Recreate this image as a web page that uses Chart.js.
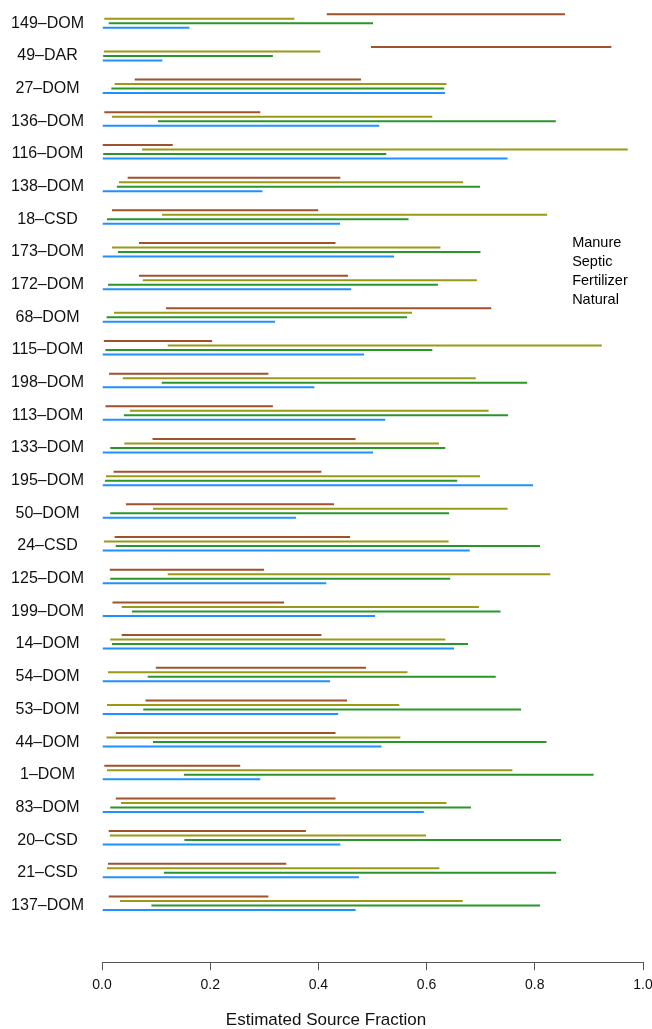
<!DOCTYPE html>
<html>
<head>
<meta charset="utf-8">
<script src="https://cdn.jsdelivr.net/npm/chart.js@4"></script>
<style>
  body { margin: 0; background: #fff; }
  #wrap { width: 652px; height: 1029px; position: relative; }
</style>
</head>
<body>
<div id="wrap"><canvas id="sourceChart"></canvas></div>
<script>
const ctx = document.getElementById('sourceChart').getContext('2d');

// sample names, top to bottom
const categories = [
  '149\u2013DOM', '49\u2013DAR', '27\u2013DOM', '136\u2013DOM', '116\u2013DOM', '138\u2013DOM', '18\u2013CSD',
  '173\u2013DOM', '172\u2013DOM', '68\u2013DOM', '115\u2013DOM', '198\u2013DOM', '113\u2013DOM', '133\u2013DOM',
  '195\u2013DOM', '50\u2013DOM', '24\u2013CSD', '125\u2013DOM', '199\u2013DOM', '14\u2013DOM', '54\u2013DOM',
  '53\u2013DOM', '44\u2013DOM', '1\u2013DOM', '83\u2013DOM', '20\u2013CSD', '21\u2013CSD', '137\u2013DOM'
];

// [low, high] of the estimated fraction for each source
const manure = [
  [0.415, 0.856], [0.497, 0.942], [0.060, 0.479], [0.004, 0.293], [0.000, 0.131], [0.047, 0.441], [0.018, 0.400],
  [0.068, 0.432], [0.068, 0.455], [0.118, 0.720], [0.003, 0.204], [0.013, 0.308], [0.006, 0.316], [0.093, 0.469],
  [0.021, 0.406], [0.044, 0.429], [0.023, 0.459], [0.014, 0.300], [0.019, 0.337], [0.036, 0.406], [0.099, 0.488],
  [0.080, 0.453], [0.025, 0.432], [0.004, 0.256], [0.025, 0.432], [0.012, 0.377], [0.011, 0.341], [0.012, 0.308]
];
const septic = [
  [0.004, 0.356], [0.003, 0.404], [0.023, 0.637], [0.018, 0.611], [0.074, 0.972], [0.031, 0.668], [0.111, 0.823],
  [0.018, 0.626], [0.075, 0.693], [0.022, 0.573], [0.121, 0.924], [0.038, 0.691], [0.051, 0.715], [0.041, 0.623],
  [0.007, 0.699], [0.094, 0.750], [0.003, 0.641], [0.121, 0.829], [0.036, 0.697], [0.015, 0.635], [0.011, 0.565],
  [0.009, 0.550], [0.008, 0.552], [0.009, 0.759], [0.035, 0.637], [0.014, 0.599], [0.009, 0.624], [0.033, 0.667]
];
const fertilizer = [
  [0.012, 0.501], [0.002, 0.316], [0.017, 0.633], [0.103, 0.839], [0.002, 0.526], [0.027, 0.699], [0.009, 0.567],
  [0.029, 0.700], [0.011, 0.621], [0.008, 0.564], [0.006, 0.611], [0.110, 0.786], [0.040, 0.751], [0.015, 0.635],
  [0.005, 0.657], [0.015, 0.642], [0.025, 0.810], [0.015, 0.644], [0.055, 0.737], [0.018, 0.677], [0.084, 0.728],
  [0.076, 0.775], [0.094, 0.822], [0.151, 0.909], [0.015, 0.682], [0.152, 0.849], [0.114, 0.840], [0.091, 0.810]
];
const natural = [
  [0, 0.162], [0, 0.112], [0, 0.634], [0, 0.513], [0, 0.750], [0, 0.297], [0, 0.440],
  [0, 0.540], [0, 0.461], [0, 0.320], [0, 0.485], [0, 0.393], [0, 0.524], [0, 0.501],
  [0, 0.797], [0, 0.359], [0, 0.680], [0, 0.415], [0, 0.505], [0, 0.651], [0, 0.422],
  [0, 0.437], [0, 0.517], [0, 0.293], [0, 0.595], [0, 0.441], [0, 0.475], [0, 0.469]
];

const xTicks = [0, 0.2, 0.4, 0.6, 0.8, 1.0];
const seriesNames = ['Manure', 'Septic', 'Fertilizer', 'Natural'];
const seriesColors = ['#a0522d', '#9a9a14', '#2a962a', '#1e90ff'];

const FONT = '"Liberation Sans", Arial, Helvetica, sans-serif';

function makeSet(name, color, ranges) {
  return {
    label: name,
    data: ranges.map((r, i) => ({ y: i, x: r })),
    backgroundColor: color,
    borderColor: 'rgba(0,0,0,0)',
    borderWidth: { top: 1.25, bottom: 1.25, left: 0, right: 0 },
    borderSkipped: false,
    inflateAmount: 0,
    barThickness: 4.5
  };
}

// text-only legend inside the plot, placed through the scales
const legendAt = { x: 0.869, y: 6.8 };
const textLegend = {
  id: 'textLegend',
  afterDraw(chart) {
    const c = chart.ctx;
    const xs = chart.scales.x, ys = chart.scales.y;
    c.save();
    c.font = '14.5px ' + FONT;
    c.fillStyle = '#000';
    c.textAlign = 'left';
    c.textBaseline = 'middle';
    chart.data.datasets.forEach((ds, i) => {
      c.fillText(ds.label, xs.getPixelForValue(legendAt.x), ys.getPixelForValue(legendAt.y) + i * 19);
    });
    c.restore();
  }
};

new Chart(ctx, {
  type: 'bar',
  data: {
    datasets: [
      makeSet(seriesNames[0], seriesColors[0], manure),
      makeSet(seriesNames[1], seriesColors[1], septic),
      makeSet(seriesNames[2], seriesColors[2], fertilizer),
      makeSet(seriesNames[3], seriesColors[3], natural)
    ]
  },
  options: {
    indexAxis: 'y',
    responsive: true,
    maintainAspectRatio: false,
    animation: false,
    layout: { padding: { top: 0, right: 0, bottom: 0, left: 0 } },
    plugins: {
      legend: { display: false },
      tooltip: { enabled: false },
      title: {
        display: true,
        position: 'bottom',
        text: 'Estimated Source Fraction',
        color: '#111',
        font: { family: FONT, size: 17, weight: 'normal', lineHeight: 1 },
        padding: { top: 11, bottom: 0 }
      }
    },
    scales: {
      x: {
        type: 'linear',
        min: 0,
        max: 1,
        afterBuildTicks: (scale) => { scale.ticks = xTicks.map(v => ({ value: v })); },
        afterFit: (scale) => { scale.paddingRight = 9; },
        ticks: {
          color: '#111',
          padding: 7,
          maxRotation: 0,
          font: { family: FONT, size: 14 },
          callback: (v) => Number(v).toFixed(1)
        },
        grid: { drawOnChartArea: false, drawTicks: true, tickLength: 8, color: '#555' },
        border: { display: true, color: '#555', width: 1 }
      },
      y: {
        type: 'linear',
        reverse: true,
        offset: false,
        min: -0.643,
        max: 28.806,
        // labels sit a touch below the centre of each group, as in the original
        afterBuildTicks: (scale) => { scale.ticks = categories.map((c, i) => ({ value: i + 0.07 })); },
        afterFit: (scale) => { scale.width = 102; scale.paddingTop = 0; scale.paddingBottom = 0; },
        ticks: {
          color: '#111',
          crossAlign: 'center',
          padding: 18,
          font: { family: FONT, size: 16 },
          callback: (v) => categories[Math.round(v)]
        },
        grid: { display: false, drawTicks: false, offset: false },
        border: { display: false }
      }
    }
  },
  plugins: [textLegend]
});
</script>
</body>
</html>
